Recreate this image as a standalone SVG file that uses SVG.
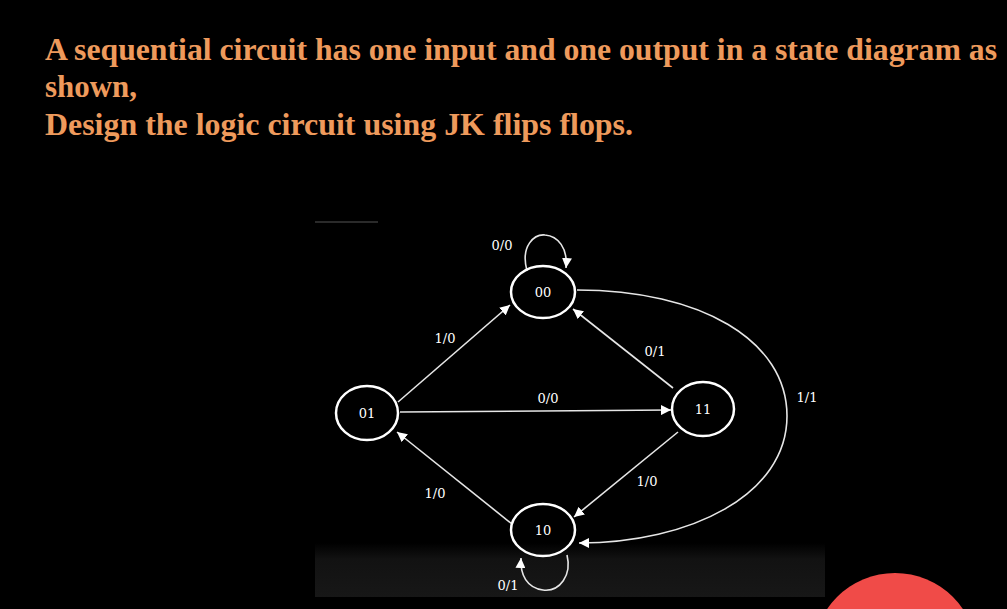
<svg xmlns="http://www.w3.org/2000/svg" width="1007" height="609" viewBox="0 0 1007 609">
<defs>
<linearGradient id="band" x1="0" y1="0" x2="0" y2="1">
<stop offset="0" stop-color="#000"/>
<stop offset="0.3" stop-color="#121212"/>
<stop offset="1" stop-color="#171717"/>
</linearGradient>
<marker id="arr" viewBox="0 0 10 10" refX="10" refY="5" markerWidth="10" markerHeight="10" markerUnits="userSpaceOnUse" orient="auto">
<path d="M0,0 L10,5 L0,10 z" fill="#fff"/>
</marker>
<style>
.title{font-family:"Liberation Serif","Times New Roman",serif;font-weight:bold;font-size:32px;fill:#ee9a5c}
.node{fill:none;stroke:#fff;stroke-width:2.5}
.nt{font-family:"DejaVu Serif",serif;font-size:13px;fill:#fff;text-anchor:middle;dominant-baseline:central}
.edge{fill:none;stroke:#e6e6e6;stroke-width:1.6;marker-end:url(#arr)}
.lbl{font-family:"DejaVu Serif",serif;font-size:13px;fill:#fff;text-anchor:middle;dominant-baseline:central}
</style>
</defs>
<rect width="1007" height="609" fill="#000"/>
<rect x="315" y="543" width="510" height="54" fill="url(#band)"/>
<line x1="315" y1="222" x2="378" y2="222" stroke="#555" stroke-width="1"/>
<circle cx="895" cy="655" r="82" fill="#f04b48"/>
<g id="title">
<text class="title" x="45" y="60" textLength="952" lengthAdjust="spacingAndGlyphs">A sequential circuit has one input and one output in a state diagram as</text>
<text class="title" x="45" y="97" textLength="92" lengthAdjust="spacingAndGlyphs">shown,</text>
<text class="title" x="45" y="135" textLength="588" lengthAdjust="spacingAndGlyphs">Design the logic circuit using JK flips flops.</text>
</g>
<g id="connectors">
<path class="edge" d="M398,402 L510,305"/>
<path class="edge" d="M673,388 L573,309"/>
<path class="edge" d="M400,412 L671,410"/>
<path class="edge" d="M678,432 L574,517"/>
<path class="edge" d="M512,524 L397,432"/>
<path class="edge" d="M577,290 C700,290 787,340 787,416 C787,495 690,543 579,543"/>
<path class="edge" d="M527,271 C520,245 535,234 545,235 C558,236 568,248 566,268"/>
<path class="edge" d="M567,555 C572,575 560,592 543,590 C527,588 520,575 521,558"/>
<text class="lbl" x="502" y="245">0/0</text>
<text class="lbl" x="445" y="338">1/0</text>
<text class="lbl" x="655" y="351">0/1</text>
<text class="lbl" x="548" y="398">0/0</text>
<text class="lbl" x="807" y="397">1/1</text>
<text class="lbl" x="647" y="481">1/0</text>
<text class="lbl" x="435" y="493">1/0</text>
<text class="lbl" x="508" y="585">0/1</text>
</g>
<g id="n00"><ellipse class="node" cx="543" cy="292" rx="32" ry="26"/><text class="nt" x="543" y="292">00</text></g>
<g id="n01"><ellipse class="node" cx="367" cy="413" rx="31" ry="27"/><text class="nt" x="367" y="413">01</text></g>
<g id="n11"><ellipse class="node" cx="703" cy="409" rx="31" ry="27"/><text class="nt" x="703" y="409">11</text></g>
<g id="n10"><ellipse class="node" cx="543" cy="530" rx="32" ry="26"/><text class="nt" x="543" y="530">10</text></g>
</svg>
